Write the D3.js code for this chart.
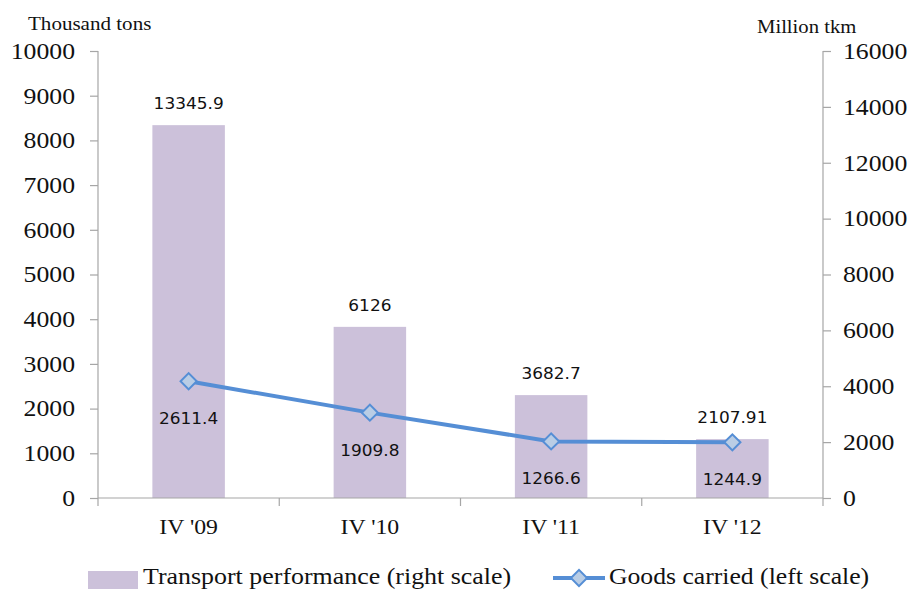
<!DOCTYPE html>
<html>
<head>
<meta charset="utf-8">
<script src="https://cdn.jsdelivr.net/npm/d3@7"></script>
<style>
  body { margin: 0; background: #fff; }
  svg { display: block; }
</style>
</head>
<body>
<script>
// Chart data
var categories = ["IV '09", "IV '10", "IV '11", "IV '12"];
var transport = [13345.9, 6126, 3682.7, 2107.91];   // right scale, million tkm
var goods = [2611.4, 1909.8, 1266.6, 1244.9];       // left scale, thousand tons
var transportLabels = ["13345.9", "6126", "3682.7", "2107.91"];
var goodsLabels = ["2611.4", "1909.8", "1266.6", "1244.9"];
var leftTicks = [0, 1000, 2000, 3000, 4000, 5000, 6000, 7000, 8000, 9000, 10000];
var rightTicks = [0, 2000, 4000, 6000, 8000, 10000, 12000, 14000, 16000];

var width = 914;
var height = 590;
var plotLeft = 98, plotRight = 823, plotTop = 51, plotBottom = 498;

var svg = d3.select("body")
            .append("svg")
            .attr("width", width)
            .attr("height", height);

var x = d3.scaleBand().domain(categories).range([plotLeft, plotRight]);
var yLeft = d3.scaleLinear().domain([0, 10000]).range([plotBottom, plotTop]);
var yRight = d3.scaleLinear().domain([0, 16000]).range([plotBottom, plotTop]);

var serif = "'Liberation Serif', 'Times New Roman', serif";
var sans = "'DejaVu Sans', Verdana, sans-serif";
var axisColor = "#a6a6a6";
var lineColor = "#558ed5";

// the original text looks a bit wider than the fonts here, stretch it horizontally
function addText(parent, px, py, str, font, size, k, anchor) {
    return parent.append("text")
        .attr("transform", "translate(" + px + "," + py + ") scale(" + k + ",1)")
        .attr("text-anchor", anchor || "start")
        .style("font-family", font)
        .style("font-size", size + "px")
        .attr("fill", "#111")
        .text(str);
}

// Bars (right scale)
var barW = x.bandwidth() * 0.4;
svg.selectAll("rect.bar")
    .data(transport)
    .enter()
    .append("rect")
    .attr("class", "bar")
    .attr("x", function(d, i) { return x(categories[i]) + x.bandwidth() / 2 - barW / 2; })
    .attr("y", function(d) { return yRight(d); })
    .attr("width", barW)
    .attr("height", function(d) { return plotBottom - yRight(d); })
    .style("fill", "#ccc1da");

// Axes
var tickStretch = 1.12;
var leftAxis = svg.append("g")
    .attr("transform", "translate(" + plotLeft + ",0)")
    .call(d3.axisLeft(yLeft).tickValues(leftTicks).tickFormat(d3.format("d"))
          .tickSize(8).tickPadding(15).tickSizeOuter(8));
var rightAxis = svg.append("g")
    .attr("transform", "translate(" + plotRight + ",0)")
    .call(d3.axisRight(yRight).tickValues(rightTicks).tickFormat(d3.format("d"))
          .tickSize(8).tickPadding(12).tickSizeOuter(8));
[leftAxis, rightAxis].forEach(function(a) {
    a.select(".domain").attr("d", "M0," + plotTop + "V" + plotBottom);
    a.selectAll("path, line").attr("stroke", axisColor).attr("stroke-width", 1.2);
    a.selectAll("text")
        .attr("x", function() { return +d3.select(this).attr("x") / tickStretch; })
        .attr("transform", "scale(" + tickStretch + ",1)")
        .style("font-family", serif)
        .style("font-size", "23px")
        .attr("fill", "#111");
});

// Category axis
var bottomAxis = svg.append("g")
    .attr("transform", "translate(0," + plotBottom + ")");
bottomAxis.append("line")
    .attr("x1", plotLeft).attr("x2", plotRight)
    .attr("stroke", axisColor).attr("stroke-width", 1.2);
var bounds = categories.map(function(c) { return x(c); }).concat([plotRight]);
bottomAxis.selectAll("line.tick")
    .data(bounds)
    .enter()
    .append("line")
    .attr("class", "tick")
    .attr("x1", function(d) { return d; })
    .attr("x2", function(d) { return d; })
    .attr("y1", 0).attr("y2", 8)
    .attr("stroke", axisColor).attr("stroke-width", 1.2);
categories.forEach(function(c) {
    addText(bottomAxis, x(c) + x.bandwidth() / 2, 36, c, serif, 22, 1.08, "middle");
});

// Axis titles
addText(svg, 28, 30, "Thousand tons", serif, 18, 1.17);
addText(svg, 757, 33, "Million tkm", serif, 18, 1.15);

// Bar labels
transport.forEach(function(d, i) {
    addText(svg, x(categories[i]) + x.bandwidth() / 2, yRight(d) - 16,
            transportLabels[i], sans, 16, 1.06, "middle");
});

// Line (left scale)
var line = d3.line()
    .x(function(d, i) { return x(categories[i]) + x.bandwidth() / 2; })
    .y(function(d) { return yLeft(d); });
svg.append("path")
    .datum(goods)
    .attr("d", line)
    .attr("fill", "none")
    .attr("stroke", lineColor)
    .attr("stroke-width", 4);

var diamond = d3.symbol().type(d3.symbolSquare).size(130);
svg.selectAll("path.marker")
    .data(goods)
    .enter()
    .append("path")
    .attr("class", "marker")
    .attr("d", diamond)
    .attr("transform", function(d, i) {
        return "translate(" + (x(categories[i]) + x.bandwidth() / 2) + "," + yLeft(d) + ") rotate(45)";
    })
    .attr("fill", "#b9cde5")
    .attr("stroke", lineColor)
    .attr("stroke-width", 2);

goods.forEach(function(d, i) {
    addText(svg, x(categories[i]) + x.bandwidth() / 2, yLeft(d) + 43,
            goodsLabels[i], sans, 16, 1.06, "middle");
});

// Legend
var legend = svg.append("g");
legend.append("rect")
    .attr("x", 88).attr("y", 571)
    .attr("width", 50).attr("height", 18)
    .style("fill", "#ccc1da");
addText(legend, 143, 584, "Transport performance (right scale)", serif, 24, 1.08);
legend.append("line")
    .attr("x1", 553).attr("x2", 605)
    .attr("y1", 578).attr("y2", 578)
    .attr("stroke", lineColor).attr("stroke-width", 4);
legend.append("path")
    .attr("d", diamond)
    .attr("transform", "translate(579,578) rotate(45)")
    .attr("fill", "#b9cde5")
    .attr("stroke", lineColor)
    .attr("stroke-width", 2);
addText(legend, 609, 584, "Goods carried (left scale)", serif, 24, 1.07);
</script>
</body>
</html>
